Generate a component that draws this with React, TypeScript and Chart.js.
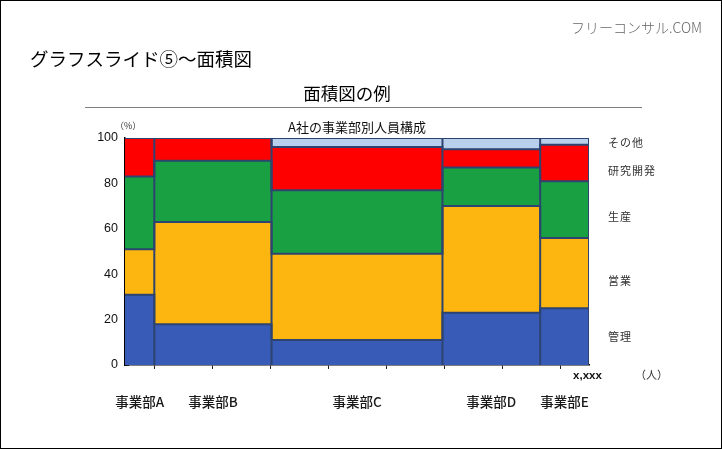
import React, { useEffect, useRef } from "react";
import { Chart, registerables } from "chart.js";

Chart.register(...registerables);

// Divisions (columns) and their headcount, which sets each column's width
const divisions = ["事業部A", "事業部B", "事業部C", "事業部D", "事業部E"];
const headcount = [300, 1200, 1750, 1000, 500];

// Share of each function within a division (%), bottom to top
const functionNames = ["管理", "営業", "生産", "研究開発", "その他"];
const kanri = [31, 18, 11, 23, 25];
const eigyo = [20, 45, 38, 47, 31];
const seisan = [32, 27, 28, 17, 25];
const kenkyu = [17, 10, 19, 8, 16];
const sonota = [0, 0, 4, 5, 3];

const yTicks = [0, 20, 40, 60, 80, 100];
const xEndLabel = "x,xxx";
const xUnitLabel = "（人）";
const yUnitLabel = "（%）";

const layerColors = ["#375BB7", "#FDB60F", "#19A043", "#FF0000", "#B8D0EC"];
const cellBorder = "#2D4470";

const shares = [kanri, eigyo, seisan, kenkyu, sonota];

// Column edges along the headcount axis
const bounds: number[] = [0];
headcount.forEach((h) => bounds.push(bounds[bounds.length - 1] + h));
const total = bounds[bounds.length - 1];

// Running top of each layer per column
const layerTops: number[][] = shares.map((_, k) =>
  divisions.map((__, i) => shares.slice(0, k + 1).reduce((s, arr) => s + arr[i], 0))
);

function stepPoints(tops: number[]) {
  const pts: { x: number; y: number }[] = [];
  tops.forEach((t, i) => {
    pts.push({ x: bounds[i], y: t });
    pts.push({ x: bounds[i + 1], y: t });
  });
  return pts;
}

const CJK = '"Noto Sans CJK JP", "Noto Sans", sans-serif';

const divisionLabels = {
  id: "divisionLabels",
  afterDraw(chart: any) {
    const { ctx, chartArea } = chart;
    const x = chart.scales.x;
    ctx.save();
    ctx.fillStyle = "#1a1a1a";
    ctx.font = `500 13.5px ${CJK}`;
    ctx.textAlign = "center";
    ctx.textBaseline = "middle";
    divisions.forEach((d, i) => {
      const cx = x.getPixelForValue((bounds[i] + bounds[i + 1]) / 2);
      ctx.fillText(d, cx, chartArea.bottom + 37);
    });
    ctx.restore();
  },
};

function Label(props: {
  x: number;
  y: number;
  size: number;
  text: string;
  align?: "left" | "center";
  color?: string;
  weight?: number | string;
  family?: string;
  spacing?: number;
}) {
  const { x, y, size, text, align = "left", color = "#111", weight = 400, family = CJK, spacing = 0 } = props;
  return (
    <div
      style={{
        position: "absolute",
        left: x,
        top: y,
        transform: `translate(${align === "center" ? "-50%" : "0"}, -50%)`,
        fontSize: size,
        lineHeight: 1,
        whiteSpace: "nowrap",
        color,
        fontWeight: weight as any,
        fontFamily: family,
        letterSpacing: spacing,
      }}
    >
      {text}
    </div>
  );
}

export default function App() {
  const canvasRef = useRef<HTMLCanvasElement>(null);

  useEffect(() => {
    const separatorSets = bounds.slice(1).map((b) => ({
      label: "sep",
      data: [
        { x: b, y: 0 },
        { x: b, y: 100 },
      ],
      borderColor: cellBorder,
      borderWidth: 2,
      pointRadius: 0,
      fill: false,
      tension: 0,
    }));
    const layerSets = functionNames.map((name, k) => ({
      label: name,
      data: stepPoints(layerTops[k]),
      borderColor: cellBorder,
      borderWidth: 2,
      backgroundColor: layerColors[k],
      pointRadius: 0,
      fill: "origin",
      tension: 0,
    }));

    const chart = new Chart(canvasRef.current!, {
      type: "line",
      data: { datasets: [...separatorSets, ...layerSets] as any },
      options: {
        animation: false,
        responsive: false,
        devicePixelRatio: 1,
        layout: { padding: { left: 0, right: 133, top: 138, bottom: 74 } },
        plugins: {
          legend: { display: false },
          tooltip: { enabled: false },
          filler: { drawTime: "beforeDatasetsDraw" },
        },
        scales: {
          x: {
            type: "linear",
            min: 0,
            max: total,
            z: 1,
            afterBuildTicks: (scale: any) => {
              scale.ticks = Array.from({ length: 8 }, (_, k) => ({ value: ((2 * k + 1) * total) / 16 }));
            },
            afterFit: (scale: any) => {
              scale.height = 10;
            },
            ticks: { display: false },
            grid: { display: true, drawOnChartArea: false, drawTicks: true, tickLength: 4, color: "#222", lineWidth: 1 },
            border: { display: true, color: "#000", width: 1.5 },
          },
          y: {
            type: "linear",
            min: 0,
            max: 100,
            z: 1,
            afterBuildTicks: (scale: any) => {
              scale.ticks = yTicks.map((v) => ({ value: v }));
            },
            afterFit: (scale: any) => {
              scale.width = 125;
            },
            ticks: {
              padding: 11,
              color: "#111",
              font: { family: '"Liberation Sans", Arial, sans-serif', size: 12.5 },
            },
            grid: { display: true, drawOnChartArea: false, drawTicks: true, tickLength: -4, color: "#333", lineWidth: 1 },
            border: { display: true, color: "#000", width: 1.5 },
          },
        },
      },
      plugins: [divisionLabels],
    } as any);
    return () => chart.destroy();
  }, []);

  return (
    <div
      style={{
        position: "fixed",
        left: 0,
        top: 0,
        width: 722,
        height: 449,
        background: "#fff",
        overflow: "hidden",
      }}
    >
      <canvas
        ref={canvasRef}
        width={722}
        height={449}
        style={{ position: "absolute", left: 0, top: 0, width: 722, height: 449 }}
      />
      <Label x={571} y={27} size={14} text="フリーコンサル.COM" color="#666" weight={300} />
      <Label x={30} y={58} size={18.5} text="グラフスライド⑤～面積図" color="#000" />
      <Label x={347} y={93} size={17.5} text="面積図の例" align="center" color="#000" />
      <div style={{ position: "absolute", left: 85, top: 106.5, width: 557, height: 1.5, background: "#808080" }} />
      <Label x={357} y={126} size={13} text="A社の事業部別人員構成" align="center" color="#111" />
      <Label x={115} y={125} size={9} text={yUnitLabel} color="#333" />
      <Label
        x={587.5}
        y={376}
        size={11.5}
        text={xEndLabel}
        align="center"
        color="#111"
        weight={700}
        family='"Liberation Sans", Arial, sans-serif'
      />
      <Label x={635} y={374} size={11} text={xUnitLabel} color="#333" />
      <Label x={608} y={141.5} size={11} text="その他" color="#333" spacing={1} />
      <Label x={608} y={170} size={11} text="研究開発" color="#333" spacing={1} />
      <Label x={608} y={216} size={11} text="生産" color="#333" spacing={1} />
      <Label x={608} y={280} size={11} text="営業" color="#333" spacing={1} />
      <Label x={608} y={336} size={11} text="管理" color="#333" spacing={1} />
      <div
        style={{
          position: "absolute",
          left: 0,
          top: 0,
          width: 722,
          height: 449,
          boxSizing: "border-box",
          border: "1px solid #000",
          pointerEvents: "none",
        }}
      />
    </div>
  );
}
